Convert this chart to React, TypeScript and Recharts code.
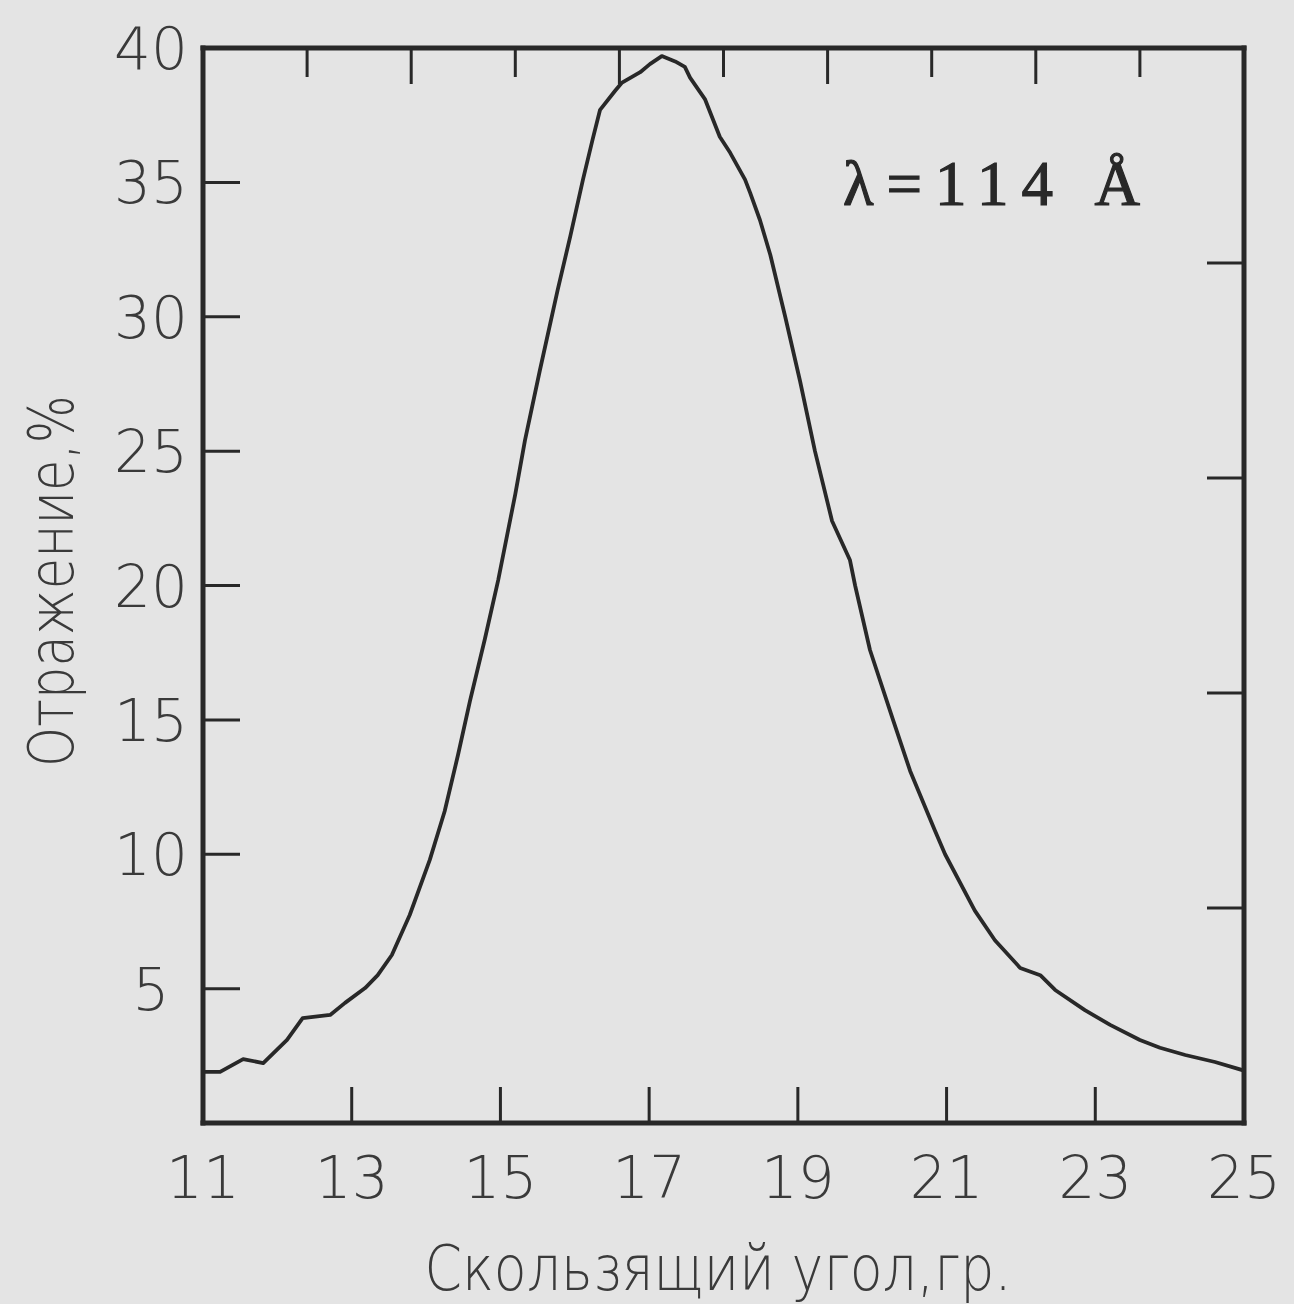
import React from 'react';
import { LineChart, Line, XAxis, YAxis } from 'recharts';

// Grazing angle, degrees
const angles = [
  11.0, 11.23, 11.54, 11.81, 12.13, 12.34, 12.71, 12.91, 13.18, 13.35, 13.54, 13.78,
  14.05, 14.25, 14.43, 14.59, 14.79, 14.97, 15.2, 15.33, 15.53, 15.77, 15.94, 16.11,
  16.24, 16.34, 16.54, 16.63, 16.88, 17.01, 17.17, 17.35, 17.48, 17.55, 17.75, 17.95,
  18.09, 18.29, 18.36, 18.49, 18.63, 18.83, 19.03, 19.23, 19.46, 19.7, 19.77, 19.97,
  20.28, 20.51, 20.84, 20.98, 21.38, 21.65, 21.99, 22.26, 22.46, 22.86, 23.2, 23.6,
  23.87, 24.21, 24.61, 25.0,
];
// Reflectance, %
const reflectance = [
  1.9, 1.9, 2.38, 2.23, 3.09, 3.9, 4.02, 4.47, 5.02, 5.5, 6.25, 7.74,
  9.79, 11.6, 13.7, 15.7, 18.0, 20.2, 23.4, 25.4, 28.0, 31.0, 33.0, 35.1,
  36.6, 37.7, 38.4, 38.7, 39.1, 39.4, 39.7, 39.5, 39.3, 38.9, 38.1, 36.7,
  36.1, 35.1, 34.6, 33.6, 32.3, 30.0, 27.6, 25.0, 22.4, 20.95, 20.0, 17.6,
  15.0, 13.1, 10.9, 10.0, 7.9, 6.8, 5.77, 5.5, 4.95, 4.2, 3.65, 3.09,
  2.8, 2.53, 2.27, 1.95,
];

const xTicks = [11, 13, 15, 17, 19, 21, 23, 25];
const yTicks = [5, 10, 15, 20, 25, 30, 35, 40];
const topTicks = [12.4, 13.8, 15.2, 16.6, 18.0, 19.4, 20.8, 22.2, 23.6];
const rightTicks = [8, 16, 24, 32];

const xTitle = 'Скользящий угол,гр.';
const yTitle = 'Отражение,%';
const note = 'λ=114 Å';

const data = angles.map((a, i) => ({ angle: a, r: reflectance[i] }));

const INK = '#282828';
const LABEL = '#3a3a3a';
const BG = '#e4e4e4';
const TICK_FONT = "'DejaVu Sans', 'Noto Sans', sans-serif";

const BottomTick = (props: any) => {
  const { x, y, payload } = props;
  return (
    <g>
      <line x1={x} x2={x} y1={y} y2={y - 36} stroke={INK} strokeWidth={3} />
      <text x={x} y={y + 75} textAnchor="middle" fontSize={58} fill={LABEL} fontFamily={TICK_FONT} fontWeight={300}>
        {payload.value}
      </text>
    </g>
  );
};

const LeftTick = (props: any) => {
  const { x, y, payload } = props;
  return (
    <g>
      <line x1={x} x2={x + 37} y1={y} y2={y} stroke={INK} strokeWidth={3} />
      <text x={x - 52} y={y + 21} textAnchor="middle" fontSize={58} fill={LABEL} fontFamily={TICK_FONT} fontWeight={300}>
        {payload.value}
      </text>
    </g>
  );
};

const TopTick = (props: any) => {
  const { x, y, index } = props;
  const len = index % 2 === 0 ? 29 : 36;
  return <line x1={x} x2={x} y1={y} y2={y + len} stroke={INK} strokeWidth={3} />;
};

const RightTick = (props: any) => {
  const { x, y } = props;
  return <line x1={x - 37} x2={x} y1={y} y2={y} stroke={INK} strokeWidth={3} />;
};

const frame = { stroke: INK, strokeWidth: 5, strokeLinecap: 'square' as const };

export default function App() {
  return (
    <div style={{ position: 'absolute', left: 0, top: 0, width: 1294, height: 1304, background: BG, overflow: 'hidden' }}>
      <LineChart
        width={1294}
        height={1304}
        data={data}
        margin={{ top: 47, right: 49, bottom: 180, left: 202 }}
      >
        <XAxis
          xAxisId="bottom"
          dataKey="angle"
          type="number"
          domain={[11, 25]}
          allowDataOverflow
          ticks={xTicks}
          interval={0}
          height={1}
          tickSize={0}
          tickMargin={0}
          tickLine={false}
          axisLine={frame}
          tick={(p: any) => <BottomTick {...p} />}
        />
        <XAxis
          xAxisId="top"
          orientation="top"
          dataKey="angle"
          type="number"
          domain={[11, 25]}
          allowDataOverflow
          ticks={topTicks}
          interval={0}
          height={1}
          tickSize={0}
          tickMargin={0}
          tickLine={false}
          axisLine={frame}
          tick={(p: any) => <TopTick {...p} />}
        />
        <YAxis
          yAxisId="left"
          type="number"
          domain={[0, 40]}
          allowDataOverflow
          ticks={yTicks}
          interval={0}
          width={1}
          tickSize={0}
          tickMargin={0}
          tickLine={false}
          axisLine={frame}
          tick={(p: any) => <LeftTick {...p} />}
        />
        <YAxis
          yAxisId="right"
          orientation="right"
          dataKey="r"
          type="number"
          domain={[0, 40]}
          allowDataOverflow
          ticks={rightTicks}
          interval={0}
          width={1}
          tickSize={0}
          tickMargin={0}
          tickLine={false}
          axisLine={frame}
          tick={(p: any) => <RightTick {...p} />}
        />
        <Line
          xAxisId="bottom"
          yAxisId="left"
          dataKey="r"
          type="linear"
          stroke={INK}
          strokeWidth={3.8}
          strokeLinejoin="round"
          dot={false}
          activeDot={false}
          isAnimationActive={false}
        />
      </LineChart>
      <svg
        width={1294}
        height={1304}
        style={{ position: 'absolute', left: 0, top: 0, pointerEvents: 'none' }}
      >
        <text
          x={718}
          y={1290}
          textAnchor="middle"
          fontSize={62}
          fill={LABEL}
          fontFamily={TICK_FONT}
          fontWeight={300}
          textLength={587}
          lengthAdjust="spacingAndGlyphs"
        >
          {xTitle}
        </text>
        <text
          x={73}
          y={581}
          transform="rotate(-90 73 581)"
          textAnchor="middle"
          fontSize={62}
          fill={LABEL}
          fontFamily={TICK_FONT}
          fontWeight={300}
          textLength={372}
          lengthAdjust="spacingAndGlyphs"
        >
          {yTitle}
        </text>
        <text
          x={843}
          y={205}
          fontSize={63}
          fill={INK}
          stroke={INK}
          strokeWidth={1.2}
          fontFamily="'Liberation Serif', 'DejaVu Serif', serif"
          textLength={297}
          lengthAdjust="spacing"
        >
          {note}
        </text>
      </svg>
    </div>
  );
}
